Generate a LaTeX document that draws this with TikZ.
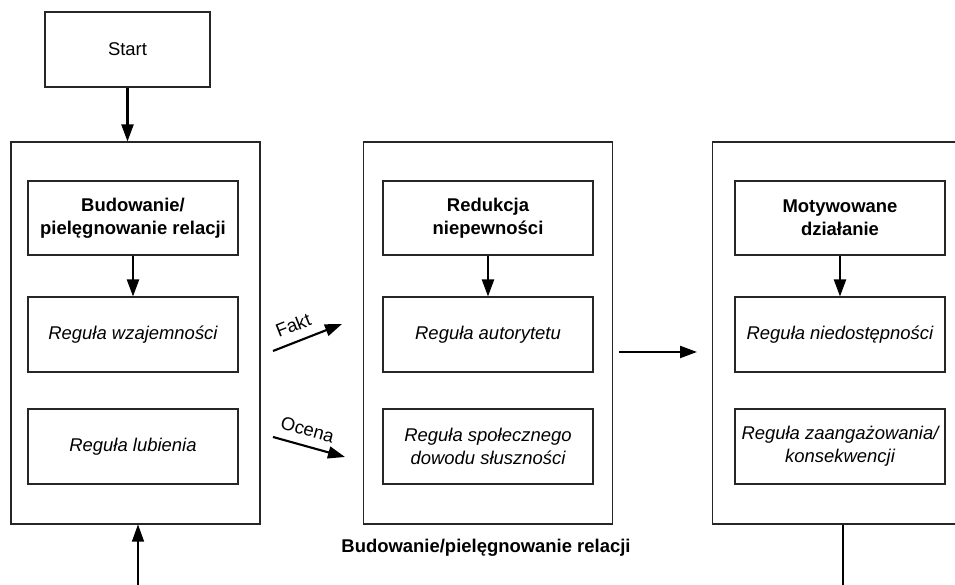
\documentclass[tikz,border=0pt]{standalone}
\usepackage{fontspec}
\setmainfont{Liberation Sans}
\usetikzlibrary{arrows.meta}

\tikzset{
  outer/.style = {shape=rectangle, draw=black!85, semithick, minimum width=4.98cm, minimum height=7.64cm},
  inner/.style = {shape=rectangle, draw=black!85, semithick, minimum width=4.2cm, minimum height=1.5cm, align=center, font=\fontsize{10.5}{13}\selectfont\itshape},
  head/.style = {inner, minimum height=1.48cm, font=\fontsize{10.5}{13}\selectfont\bfseries},
  flow/.style = {-{Triangle[length=0.34cm,width=0.24cm]}, very thick},
  back/.style = {-{Triangle[length=0.34cm,width=0.24cm]}, semithick},
  tag/.style = {above=4pt, sloped, inner sep=1pt, font=\fontsize{10.5}{13}\selectfont}
}

\begin{document}
\begin{tikzpicture}
\useasboundingbox (0,0) rectangle (19.1,11.7);

%draw start node
\node [shape=rectangle, draw=black!85, semithick, minimum width=3.3cm, minimum height=1.5cm, font=\fontsize{10.5}{13}\selectfont] at (2.55,10.71) (start) {Start};

%draw the three big stages
\node [outer] at (2.71,5.04) (stage1) {};
\node [outer] at (9.76,5.04) (stage2) {};
\node [outer] at (16.74,5.04) (stage3) {};

%first stage
\node [head] at (2.66,7.34) (relacje) {Budowanie/\\pielęgnowanie relacji};
\node [inner] at (2.66,5.01) (wzajem) {Reguła wzajemności};
\node [inner] at (2.66,2.77) (lubienie) {Reguła lubienia};

%second stage
\node [head] at (9.76,7.34) (redukcja) {Redukcja\\niepewności};
\node [inner] at (9.76,5.01) (autorytet) {Reguła autorytetu};
\node [inner] at (9.76,2.77) (dowod) {Reguła społecznego\\dowodu słuszności};

%third stage
\node [head] at (16.8,7.34) (dzialanie) {Motywowane\\działanie};
\node [inner] at (16.8,5.01) (niedost) {Reguła niedostępności};
\node [inner] at (16.8,2.77) (konsekw) {Reguła zaangażowania/\\konsekwencji};

%label under the stages
\node [font=\fontsize{10.5}{13}\selectfont\bfseries] at (9.72,0.74) (petla) {Budowanie/pielęgnowanie relacji};

%free ends of the links between stages
\coordinate (fakt_a) at (5.46,4.68);
\coordinate (fakt_b) at (6.84,5.22);
\coordinate (ocena_a) at (5.46,2.96);
\coordinate (ocena_b) at (6.9,2.56);
\coordinate (dalej_a) at (12.38,4.66);
\coordinate (dalej_b) at (13.94,4.66);
\coordinate (wejscie) at (2.76,0);
\coordinate (wyjscie) at (16.86,0);

%arrows inside the stages
\draw [flow] (start.south) -- (start.south |- stage1.north);
\draw [flow] (relacje) -- (wzajem);
\draw [flow] (redukcja) -- (autorytet);
\draw [flow] (dzialanie) -- (niedost);

%arrows between the stages
\draw [flow] (fakt_a) -- node [pos=0.38, tag] {Fakt} (fakt_b);
\draw [flow] (ocena_a) -- node [pos=0.42, tag] {Ocena} (ocena_b);
\draw [flow] (dalej_a) -- (dalej_b);

%loop back lines at the bottom
\draw [back] (wejscie) -- (wejscie |- stage1.south);
\draw [semithick] (wyjscie |- stage3.south) -- (wyjscie);
\end{tikzpicture}
\end{document}
